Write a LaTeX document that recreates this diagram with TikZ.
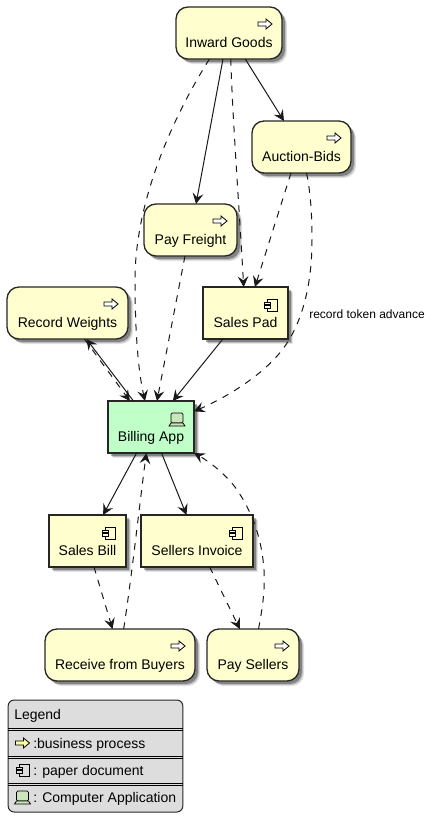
\documentclass[tikz,border=0pt]{standalone}
\usepackage{fontspec}
\setmainfont{Liberation Sans}
\usetikzlibrary{arrows.meta}
\usetikzlibrary{shadows}
\usetikzlibrary{calc}

\definecolor{boxyellow}{HTML}{FEFECE}
\definecolor{boxgreen}{HTML}{C0FFC8}
\definecolor{icongreen}{HTML}{CCE6BC}
\definecolor{iconyellow}{HTML}{FFFF99}
\definecolor{legendgray}{HTML}{DDDDDD}

\begin{document}
\begin{tikzpicture}[x=0.75pt, y=-0.75pt]
	\tikzset{softshadow/.style={drop shadow={shadow xshift=3.8pt, shadow yshift=-3.8pt, fill=black, opacity=.1},
			drop shadow={shadow xshift=3pt, shadow yshift=-3pt, fill=black, opacity=.18},
			drop shadow={shadow xshift=2.2pt, shadow yshift=-2.2pt, fill=black, opacity=.3}}}
	\tikzset{boxbase/.style={draw=black!85, line width=1pt, fill=boxyellow, softshadow, outer sep=0pt, inner sep=1pt,
			minimum height=39pt, minimum width=#1*0.75pt, text height=23pt, text depth=2pt,
			font=\fontsize{10.5}{12}\selectfont}}
	\tikzset{process/.style={boxbase=#1, rounded corners=9pt}}
	\tikzset{document/.style={boxbase=#1}}
	\tikzset{application/.style={boxbase=#1, fill=boxgreen}}
	\tikzset{edge/.style={-{Stealth[length=8pt, width=8pt, inset=3pt]}, line width=0.75pt, black!90}}
	\tikzset{dashedge/.style={edge, dash pattern=on 5pt off 5pt}}
	\tikzset{legendtext/.style={anchor=west, inner sep=0pt, font=\fontsize{10.5}{12}\selectfont}}
	\tikzset{pics/procicon/.style={code={
				\draw[line width=0.6pt, fill=#1] (-7,-2) -- (1,-2) -- (1,-5) -- (7,0) -- (1,5) -- (1,2) -- (-7,2) -- cycle;}}}
	\tikzset{pics/procicon/.default=white}
	\tikzset{pics/compicon/.style={code={
				\draw[line width=0.6pt] (-3.5,-6) rectangle (6.5,6);
				\draw[line width=0.6pt, fill=#1] (-6.5,-3) rectangle (-0.5,-0.5);
				\draw[line width=0.6pt, fill=#1] (-6.5,0.5) rectangle (-0.5,3);}}}
	\tikzset{pics/compicon/.default=boxyellow}
	\tikzset{pics/appicon/.style={code={
				\draw[line width=0.6pt, fill=icongreen, rounded corners=1pt] (-6,-6) rectangle (6,4);
				\draw[line width=0.6pt, fill=icongreen] (-6,4) -- (-8,7) -- (8,7) -- (6,4) -- cycle;}}}
	\useasboundingbox (0,0) rectangle (432,826);
	%processes
	\node[process=106] (inward) at (229,33) {Inward Goods};
	\node[process=99] (auction) at (301.5,147) {Auction-Bids};
	\node[process=93] (freight) at (190.5,230) {Pay Freight};
	\node[process=121] (weights) at (67.5,313) {Record Weights};
	\node[process=150] (buyers) at (120,655) {Receive from Buyers};
	\node[process=92] (sellers) at (253,655) {Pay Sellers};
	%documents
	\node[document=85] (salespad) at (245.5,313) {Sales Pad};
	\node[document=77] (salesbill) at (87.5,541) {Sales Bill};
	\node[document=112] (invoice) at (197,541) {Sellers Invoice};
	%application
	\node[application=86] (billing) at (151,427) {Billing App};
	%icons
	\foreach \n in {inward, auction, freight, weights, buyers, sellers}
		\pic at ($(\n.north east)+(-17,17)$) {procicon};
	\foreach \n in {salespad, salesbill, invoice}
		\pic at ($(\n.north east)+(-17,18)$) {compicon};
	\pic at ($(billing.north east)+(-17,18)$) {appicon};
	%edges
	\draw[dashedge] (inward.233.8) .. controls (165,130) and (135,210) .. (135,280)
		.. controls (135,330) and (138,370) .. (billing.103);
	\draw[edge] (inward.257) -- (freight.78);
	\draw[dashedge] (inward.274.4) .. controls (232,110) and (240,220) .. (salespad.94.8);
	\draw[edge] (inward.302.7) -- (auction.124);
	\draw[dashedge] (auction.248) -- (salespad.70);
	\draw[dashedge] (auction.281.3) .. controls (310,190) and (312,210) .. (312,240)
		.. controls (312,290) and (300,330) .. (278,355)
		.. controls (258,378) and (225,398) .. (billing.20.4);
	\node[font=\fontsize{9}{11}\selectfont, inner sep=0pt] (advance) at (367,314) {record token advance};
	\draw[dashedge] (freight.258) -- (billing.77);
	\draw[edge] (salespad.229.1) -- (billing.50.1);
	\draw[edge] (billing.124.7) -- (weights.306.2);
	\draw[dashedge] (weights.303.2) -- (billing.129);
	\draw[edge] (billing.241.2) -- (salesbill.59.7);
	\draw[edge] (billing.292.4) -- (invoice.112.9);
	\draw[dashedge] (salesbill.284.7) -- (buyers.106.5);
	\draw[dashedge] (buyers.82.8) .. controls (132,575) and (140,500) .. (billing.260.6);
	\draw[dashedge] (invoice.296.6) -- (sellers.117.8);
	\draw[dashedge] (sellers.78.5) .. controls (263,605) and (265,590) .. (264,570)
		.. controls (262,540) and (253,512) .. (235,487)
		.. controls (225,474) and (210,462) .. (billing.south east);
	%legend
	\node[draw=black!85, line width=0.75pt, fill=legendgray, rounded corners=4.5pt, outer sep=0pt, inner sep=0pt,
		minimum width=131pt, minimum height=84pt] (legend) at (95.5,756) {};
	\foreach \r in {28.5,30.5,56,58,83,85}
		\draw[line width=0.5pt] ($(legend.north west)+(0,\r)$) -- ($(legend.north east)+(0,\r)$);
	\node[legendtext] (legendtitle) at (14,716) {Legend};
	\node[legendtext] (legendproc) at (33,744.5) {:business process};
	\node[legendtext] (legenddoc) at (33,771.5) {: paper document};
	\node[legendtext] (legendapp) at (33,799) {: Computer Application};
	\pic at (22.5,743) {procicon=iconyellow};
	\pic at (22.5,770) {compicon=legendgray};
	\pic at (22.5,797) {appicon};
\end{tikzpicture}
\end{document}
